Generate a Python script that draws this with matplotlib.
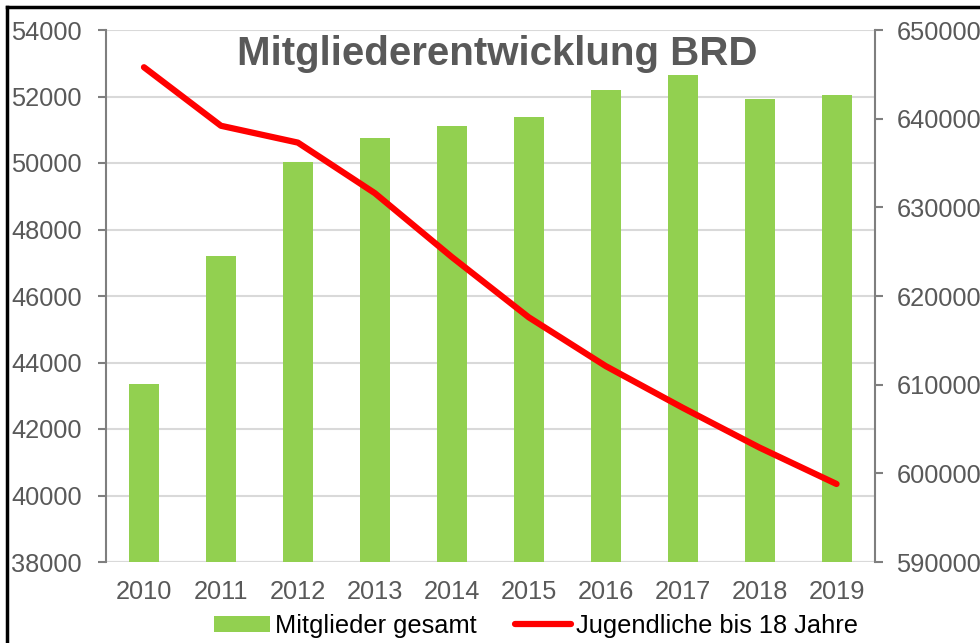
import matplotlib
matplotlib.use("Agg")
import matplotlib.pyplot as plt
from matplotlib.lines import Line2D
from matplotlib.patches import Patch

plt.rcParams['font.family'] = ['Liberation Sans', 'DejaVu Sans']

years = ["2010", "2011", "2012", "2013", "2014", "2015", "2016", "2017", "2018", "2019"]
mitglieder = [43350, 47200, 50020, 50740, 51110, 51380, 52190, 52640, 51920, 52040]
jugendliche = [645800, 639200, 637300, 631600, 624400, 617600, 612100, 607400, 602900, 598800]
left_ticks = [38000, 40000, 42000, 44000, 46000, 48000, 50000, 52000, 54000]
right_ticks = [590000, 600000, 610000, 620000, 630000, 640000, 650000]

W, H = 980, 643
fig = plt.figure(figsize=(W / 100, H / 100), dpi=100)
ax = fig.add_axes([105.5 / W, 1 - 562 / H, (875 - 105.5) / W, (562 - 30) / H])
ax2 = ax.twinx()

FS = 18.3

x = list(range(len(years)))
ax.bar(x, mitglieder, width=0.39, color="#92D050", zorder=2)
ax.set_ylim(38000, 54000)
ax.set_xlim(-0.5, len(years) - 0.5)
ax.set_yticks(left_ticks)
ax.set_yticklabels([str(t) for t in left_ticks])
ax.set_xticks(x)
ax.set_xticklabels(years)
ax.grid(axis="y", color="#D9D9D9", linewidth=1.5, zorder=0)
ax.set_axisbelow(True)

ax2.plot(x, jugendliche, color="#FF0000", linewidth=4.5, solid_capstyle="round", zorder=3)
ax2.set_ylim(590000, 650000)
ax2.set_yticks(right_ticks)
ax2.set_yticklabels([str(t) for t in right_ticks])

for a in (ax, ax2):
    for s in a.spines.values():
        s.set_visible(False)

ax.spines["left"].set_visible(True)
ax.spines["left"].set_color("#7F7F7F")
ax.spines["left"].set_linewidth(1.5)
ax2.spines["right"].set_visible(True)
ax2.spines["right"].set_color("#7F7F7F")
ax2.spines["right"].set_linewidth(1.5)

ax.tick_params(axis="y", colors="#7F7F7F", labelcolor="#595959", labelsize=FS,
               length=5.5, width=1.5, direction="out", pad=11.5)
ax.tick_params(axis="x", length=0, labelcolor="#595959", labelsize=FS, pad=13)
ax2.tick_params(axis="y", colors="#7F7F7F", labelcolor="#595959", labelsize=FS,
                length=5.5, width=1.5, direction="out", pad=10)

# bottom baseline
ax.axhline(38000, color="#D9D9D9", linewidth=1.5, zorder=1)

fig.text(497 / W, 1 - 54 / H, "Mitgliederentwicklung BRD", ha="center", va="center",
         fontsize=29, fontweight="bold", color="#595959")

handles = [Patch(facecolor="#92D050", edgecolor="none", label="Mitglieder gesamt"),
           Line2D([0], [0], color="#FF0000", linewidth=4.5, solid_capstyle="round",
                  label="Jugendliche bis 18 Jahre")]
fig.legend(handles=handles, loc="center", bbox_to_anchor=(536 / W, 1 - 626 / H),
           ncol=2, frameon=False, fontsize=FS, handlelength=2.2, handleheight=0.6,
           columnspacing=1.5, handletextpad=0.2, borderaxespad=0, labelcolor="black")

# frame lines of the original screenshot (top and left)
fig.add_artist(Line2D([7 / W, 1.0], [1 - 7 / H, 1 - 7 / H], color="black", linewidth=2.5,
                      transform=fig.transFigure))
fig.add_artist(Line2D([7 / W, 7 / W], [0.0, 1 - 7 / H], color="black", linewidth=2.5,
                      transform=fig.transFigure))

fig.savefig("out.png", dpi=100)
